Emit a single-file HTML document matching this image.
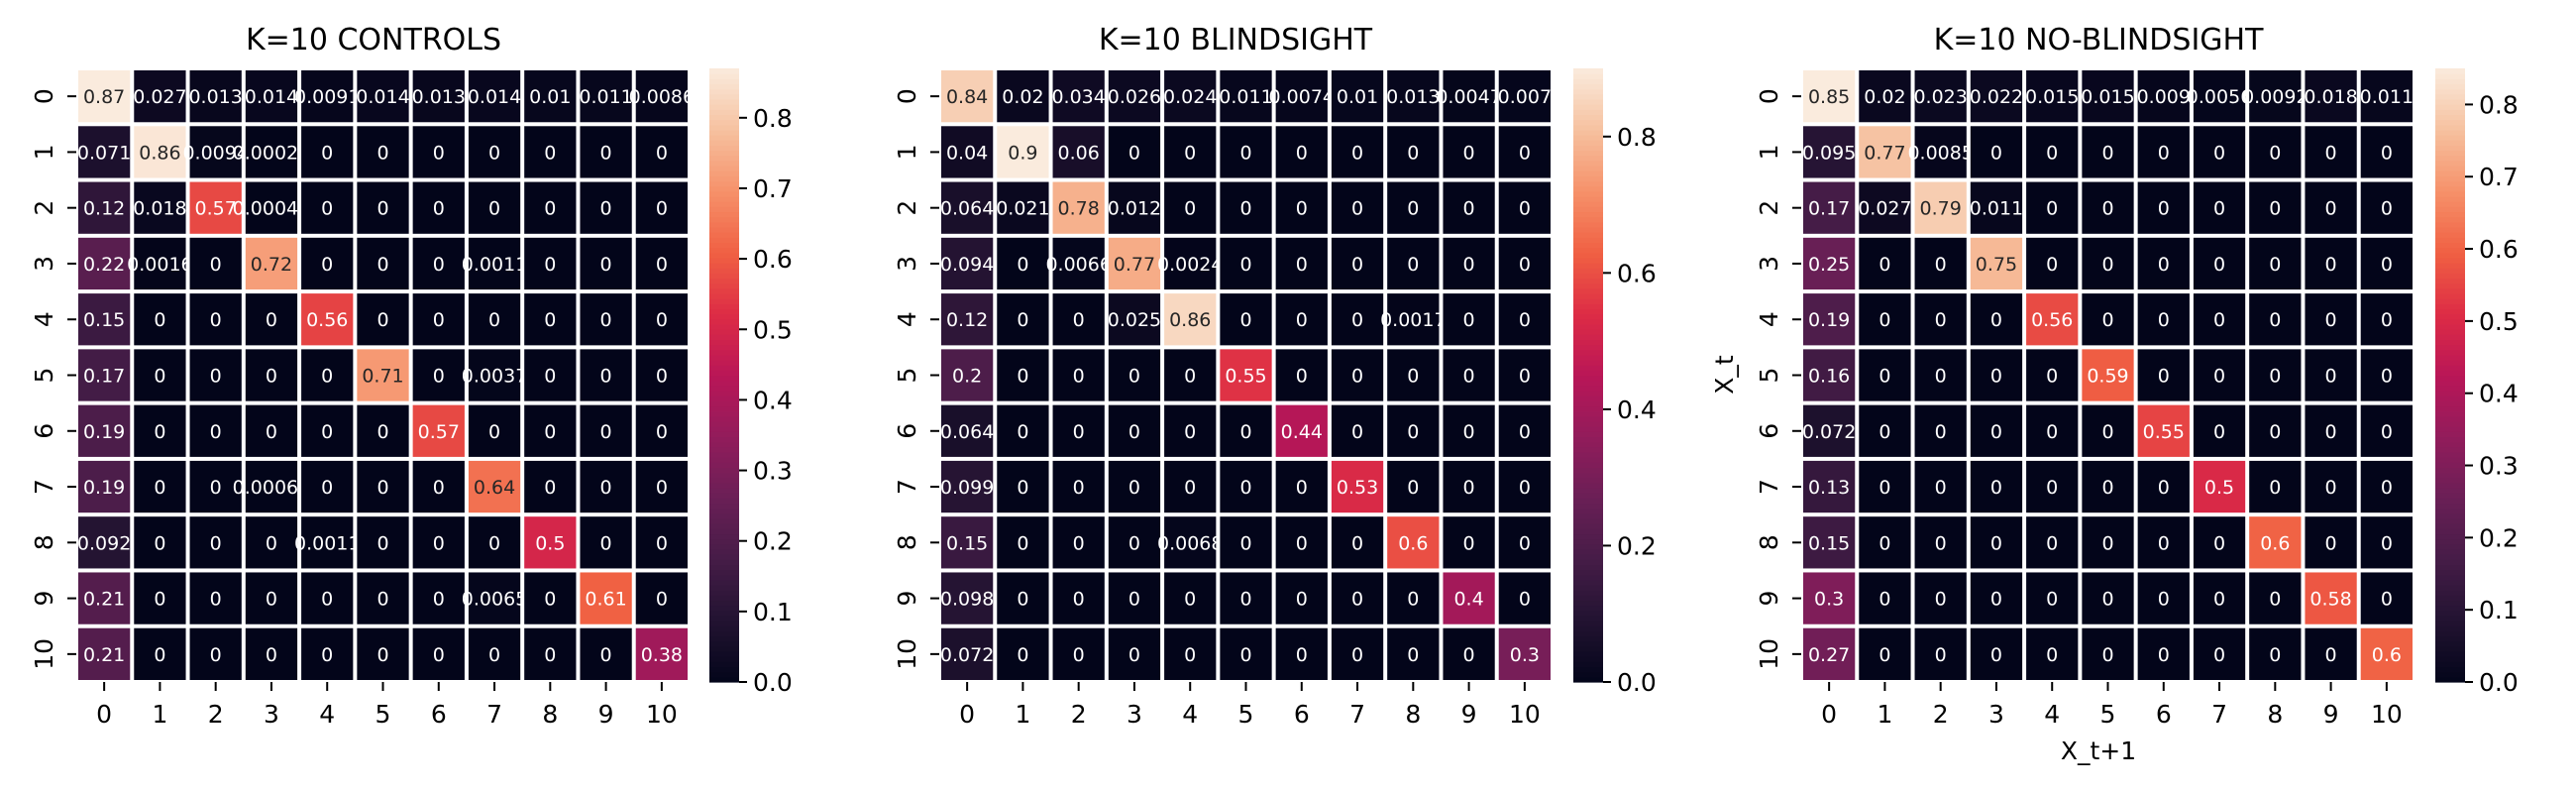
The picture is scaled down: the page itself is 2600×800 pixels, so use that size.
<!DOCTYPE html>
<html><head><meta charset="utf-8"><style>
html,body{margin:0;padding:0;background:#fff;}
svg{display:block;font-family:"DejaVu Sans","Liberation Sans",sans-serif;}
</style></head><body>
<svg id="chart" width="2600" height="800" viewBox="0 0 2600 800" xmlns="http://www.w3.org/2000/svg"></svg>
<script>
const categories = [0,1,2,3,4,5,6,7,8,9,10];
const titles = ["K=10 CONTROLS","K=10 BLINDSIGHT","K=10 NO-BLINDSIGHT"];
const controlsValues = [
 [0.87,0.027,0.013,0.014,0.0091,0.014,0.013,0.014,0.01,0.011,0.0086],
 [0.071,0.86,0.0094,0.00026,0,0,0,0,0,0,0],
 [0.12,0.018,0.57,0.00041,0,0,0,0,0,0,0],
 [0.22,0.0016,0,0.72,0,0,0,0.0011,0,0,0],
 [0.15,0,0,0,0.56,0,0,0,0,0,0],
 [0.17,0,0,0,0,0.71,0,0.0037,0,0,0],
 [0.19,0,0,0,0,0,0.57,0,0,0,0],
 [0.19,0,0,0.00063,0,0,0,0.64,0,0,0],
 [0.092,0,0,0,0.0011,0,0,0,0.5,0,0],
 [0.21,0,0,0,0,0,0,0.0065,0,0.61,0],
 [0.21,0,0,0,0,0,0,0,0,0,0.38]];
const blindsightValues = [
 [0.84,0.02,0.034,0.026,0.024,0.011,0.0074,0.01,0.013,0.0047,0.007],
 [0.04,0.9,0.06,0,0,0,0,0,0,0,0],
 [0.064,0.021,0.78,0.012,0,0,0,0,0,0,0],
 [0.094,0,0.0066,0.77,0.0024,0,0,0,0,0,0],
 [0.12,0,0,0.025,0.86,0,0,0,0.0017,0,0],
 [0.2,0,0,0,0,0.55,0,0,0,0,0],
 [0.064,0,0,0,0,0,0.44,0,0,0,0],
 [0.099,0,0,0,0,0,0,0.53,0,0,0],
 [0.15,0,0,0,0.0068,0,0,0,0.6,0,0],
 [0.098,0,0,0,0,0,0,0,0,0.4,0],
 [0.072,0,0,0,0,0,0,0,0,0,0.3]];
const noBlindsightValues = [
 [0.85,0.02,0.023,0.022,0.015,0.015,0.009,0.0056,0.0092,0.018,0.011],
 [0.095,0.77,0.0085,0,0,0,0,0,0,0,0],
 [0.17,0.027,0.79,0.011,0,0,0,0,0,0,0],
 [0.25,0,0,0.75,0,0,0,0,0,0,0],
 [0.19,0,0,0,0.56,0,0,0,0,0,0],
 [0.16,0,0,0,0,0.59,0,0,0,0,0],
 [0.072,0,0,0,0,0,0.55,0,0,0,0],
 [0.13,0,0,0,0,0,0,0.5,0,0,0],
 [0.15,0,0,0,0,0,0,0,0.6,0,0],
 [0.3,0,0,0,0,0,0,0,0,0.58,0],
 [0.27,0,0,0,0,0,0,0,0,0,0.6]];
const cbTicks1 = [0,0.1,0.2,0.3,0.4,0.5,0.6,0.7,0.8];
const cbTicks2 = [0,0.2,0.4,0.6,0.8];
const cbTicks3 = [0,0.1,0.2,0.3,0.4,0.5,0.6,0.7,0.8];

const NS="http://www.w3.org/2000/svg";
const svg=document.getElementById('chart');
function mk(tag,attrs,parent){const e=document.createElementNS(NS,tag);for(const k in attrs)e.setAttribute(k,attrs[k]);(parent||svg).appendChild(e);return e;}
const stops=[[0,[3,5,26]],[0.1,[34,19,49]],[0.2,[69,28,71]],[0.3,[106,31,86]],[0.4,[146,28,91]],[0.5,[185,22,87]],[0.6,[221,44,69]],[0.7,[240,96,67]],[0.8,[246,145,106]],[0.9,[246,193,159]],[1,[250,235,221]]];
function rocket(t){t=Math.max(0,Math.min(1,t));for(let i=1;i<stops.length;i++){if(t<=stops[i][0]){const a=stops[i-1],b=stops[i];const f=(t-a[0])/(b[0]-a[0]);const c=a[1].map((v,j)=>Math.round(v+(b[1][j]-v)*f));return `rgb(${c[0]},${c[1]},${c[2]})`;}}return 'rgb(250,235,221)';}
function fmt(v){return String(+v.toPrecision(2));}

const panels=[
 {vals:controlsValues,ticks:cbTicks1,hx:77,cbx:716,tx:377,name:'controls'},
 {vals:blindsightValues,ticks:cbTicks2,hx:948,cbx:1588,tx:1247,name:'blindsight'},
 {vals:noBlindsightValues,ticks:cbTicks3,hx:1818,cbx:2458,tx:2118,name:'no-blindsight'}];
const topY=69,size=619;
panels.forEach((p,pi)=>{
 const g=mk('g',{});
 
 
 let vmax=0;p.vals.forEach(r=>r.forEach(v=>{if(v>vmax)vmax=v;}));
 const n=categories.length,cw=size/n;
 const xS=i=>p.hx+i*cw, yS=i=>topY+i*cw;
 const t=mk('text',{x:p.tx,y:50,'font-size':30,'text-anchor':'middle',fill:'#000'},g);
 t.textContent=titles[pi];
 
 
 p.vals.forEach((row,r)=>row.forEach((v,c)=>{
  const rc=mk('rect',{x:xS(c)+2,y:yS(r)+2,width:cw-4,height:cw-4,fill:rocket(v/vmax)},g);
  
  
  const tx=mk('text',{x:xS(c)+cw/2,y:yS(r)+cw/2+7,'font-size':19,'text-anchor':'middle',fill:(v/vmax>0.72?'#262626':'#fff')},g);
  tx.textContent=fmt(v);
  
  
 }));
 categories.forEach((c,i)=>{
  const cx=xS(i)+cw/2;
  mk('line',{x1:cx,x2:cx,y1:topY+size,y2:topY+size+9,stroke:'#000','stroke-width':2},g);
  const xl=mk('text',{x:cx,y:topY+size+41,'font-size':25,'text-anchor':'middle'},g);
  xl.textContent=c;
  
  
  const cy=yS(i)+cw/2;
  mk('line',{x1:p.hx-9,x2:p.hx,y1:cy,y2:cy,stroke:'#000','stroke-width':2},g);
  const yl=mk('text',{x:0,y:0,'font-size':25,'text-anchor':'middle',transform:`translate(${p.hx-24},${cy}) rotate(-90)`},g);
  yl.textContent=c;
  
  
 });
 const cbw=30,steps=120;
 for(let s=0;s<steps;s++){
  const v0=s/steps;
  mk('rect',{x:p.cbx,y:topY+size-(s+1)*size/steps,width:cbw,height:size/steps+0.6,fill:rocket(v0+0.5/steps)},g);
 }
 const cbf=mk('rect',{x:p.cbx,y:topY,width:cbw,height:size,fill:'none',stroke:'none'},g);
 
 
 p.ticks.forEach(tv=>{
  const y=topY+size-tv/vmax*size;
  mk('line',{x1:p.cbx+cbw,x2:p.cbx+cbw+8,y1:y,y2:y,stroke:'#000','stroke-width':2},g);
  const cl=mk('text',{x:p.cbx+cbw+14,y:y+9,'font-size':25},g);
  cl.textContent=tv.toFixed(1);
  
  
 });
});
const xt=mk('text',{x:2118,y:766,'font-size':25,'text-anchor':'middle'});
xt.textContent='X_t+1';


const yt=mk('text',{x:0,y:0,'font-size':25,'text-anchor':'middle',transform:'translate(1749,378) rotate(-90)'});
yt.textContent='X_t';


</script>
</body></html>
